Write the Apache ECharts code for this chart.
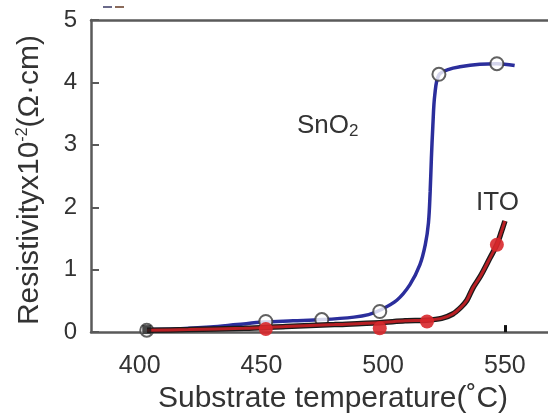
<!DOCTYPE html>
<html>
<head>
<meta charset="utf-8">
<script src="https://cdn.jsdelivr.net/npm/echarts@6/dist/echarts.min.js"></script>
<style>html,body{margin:0;padding:0;background:#fff}#c{width:548px;height:419px}</style>
</head>
<body>
<div id="c"></div>
<script>
// ---- data ----
const xTickValues = [400, 450, 500, 550];
const yTickValues = [0, 1, 2, 3, 4, 5];

// SnO2 fitted curve (temperature, resistivity x10^-2 ohm cm)
const snCurveT = [403, 415, 429, 440, 451, 463, 475, 488, 494, 498.6, 505.6, 511, 515.1, 517.3, 518.6, 519.3, 519.8, 520.4, 521.2, 522.9, 527, 531.5, 539.7, 546.7, 554];
const snCurveV = [0.04, 0.05, 0.08, 0.12, 0.16, 0.18, 0.20, 0.24, 0.28, 0.35, 0.51, 0.76, 1.08, 1.40, 1.75, 2.25, 2.78, 3.30, 3.80, 4.12, 4.21, 4.25, 4.29, 4.30, 4.27];
// SnO2 measured points (open circles)
const snPointT = [402.9, 451.8, 474.8, 498.6, 522.9, 546.7];
const snPointV = [0.03, 0.17, 0.20, 0.33, 4.13, 4.30];

// ITO fitted curve
const itoCurveT = [403, 420, 443, 460, 480, 498.6, 509, 518, 524, 528.6, 532, 534.4, 536.9, 540, 543.9, 546.7, 548.5, 550];
const itoCurveV = [0.03, 0.04, 0.06, 0.09, 0.12, 0.15, 0.18, 0.19, 0.22, 0.29, 0.40, 0.51, 0.71, 0.90, 1.19, 1.40, 1.60, 1.78];
// ITO measured points (filled red)
const itoPointT = [451.8, 498.6, 518.0, 546.7];
const itoPointV = [0.05, 0.06, 0.17, 1.40];
// first ITO point (dark marker)
const itoFirstT = [402.9];
const itoFirstV = [0.04];

const zip = (a, b) => a.map((v, i) => [v, b[i]]);

const FONT = 'Liberation Sans, Arial, sans-serif';
const TXT = '#333';
const AX = '#5a5a5a';

const chart = echarts.init(document.getElementById('c'), null, {renderer: 'canvas'});
chart.setOption({
  animation: false,
  backgroundColor: '#fff',
  grid: {left: 91, right: 0, top: 20, bottom: 84, containLabel: false},
  xAxis: [{
    type: 'value', min: 380, max: 567.7,
    name: 'Substrate temperature(˚C)', nameLocation: 'middle', nameGap: 51,
    nameTextStyle: {fontSize: 30, fontFamily: FONT, color: TXT, padding: [0, 0, 0, 27]},
    axisLine: {show: true, onZero: false, lineStyle: {color: AX, width: 2.5}},
    axisTick: {show: true, inside: true, length: 7, customValues: [550], lineStyle: {color: '#111', width: 3}},
    axisLabel: {fontSize: 25, fontFamily: FONT, color: TXT, margin: 22, customValues: xTickValues},
    splitLine: {show: false}
  }, {
    type: 'value', min: 380, max: 567.7, position: 'top',
    axisLine: {show: true, onZero: false, lineStyle: {color: AX, width: 2.5}},
    axisTick: {show: false}, axisLabel: {show: false}, splitLine: {show: false}
  }],
  yAxis: {
    type: 'value', min: 0, max: 5, interval: 1,
    name: 'Resistivityx10{sup|-2}(Ω·cm)', nameLocation: 'middle', nameGap: 46,
    nameTextStyle: {fontSize: 30, fontFamily: FONT, color: TXT, padding: [0, 8, 0, 0],
      rich: {sup: {fontSize: 16, fontFamily: FONT, color: TXT, verticalAlign: 'top', padding: [0, 0, 10, 0]}}},
    axisLine: {show: true, onZero: false, lineStyle: {color: AX, width: 2.5}},
    axisTick: {show: true, inside: true, length: 8, lineStyle: {color: AX, width: 2}},
    axisLabel: {fontSize: 24, fontFamily: FONT, color: TXT, margin: 14, padding: [8, 0, 0, 0],
      formatter: v => yTickValues.includes(v) ? String(v) : ''},
    splitLine: {show: false}
  },
  series: [
    {type: 'line', data: zip(snCurveT, snCurveV), smooth: 0.35, showSymbol: false,
     lineStyle: {color: '#2b2e9c', width: 3.5}, z: 2},
    {type: 'scatter', data: zip(snPointT, snPointV), symbol: 'circle', symbolSize: 13,
     itemStyle: {color: '#fff', borderColor: '#3a3a3a', borderWidth: 2}, z: 3},
    {type: 'line', data: zip(itoCurveT, itoCurveV), smooth: 0.3, showSymbol: false,
     lineStyle: {color: '#1a1a1a', width: 5.5}, z: 4},
    {type: 'line', data: zip(itoCurveT, itoCurveV), smooth: 0.3, showSymbol: false,
     lineStyle: {color: '#b81f24', width: 3}, z: 5},
    {type: 'scatter', data: zip(itoPointT, itoPointV), symbol: 'circle', symbolSize: 14,
     itemStyle: {color: '#d8282c', opacity: 0.9}, z: 6},
    {type: 'scatter', data: zip(itoFirstT, itoFirstV), symbol: 'rect', symbolSize: 9,
     itemStyle: {color: '#1a1a1a'}, z: 6}
  ],
  graphic: [
    {type: 'text', left: 297, top: 113, style: {
      text: 'SnO{sub|2}', fontSize: 26, fontFamily: FONT, fill: TXT,
      rich: {sub: {fontSize: 17, fontFamily: FONT, fill: TXT, verticalAlign: 'bottom', padding: [10, 0, 0, 0]}}}},
    {type: 'text', left: 476, top: 190, style: {text: 'ITO', fontSize: 26, fontFamily: FONT, fill: TXT}},
    {type: 'rect', shape: {x: 103, y: 6, width: 9, height: 2}, style: {fill: '#6a6a8a'}},
    {type: 'rect', shape: {x: 115, y: 6, width: 9, height: 2}, style: {fill: '#8a6a5a'}}
  ]
});
</script>
</body>
</html>
